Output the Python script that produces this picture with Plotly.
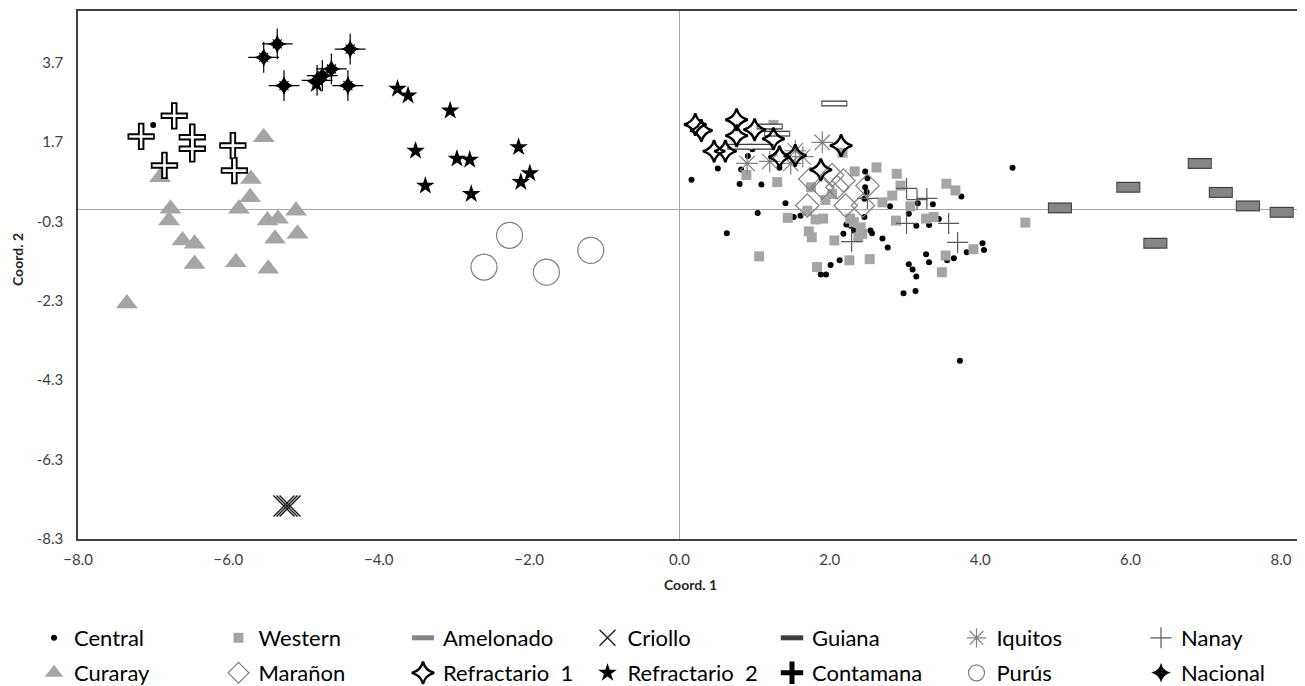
import plotly.graph_objects as go

# ---------------- data (Coord.1, Coord.2) ----------------
central_x = [0.16, 0.51, 0.82, 0.80, 1.09, 0.97, 0.91, 1.33, 1.41, 1.04, 0.63, 1.61, 1.52,
             2.47, 2.50, 2.47, 2.49, 2.46, 2.46, 2.22, 2.28, 2.32, 2.18, 2.54, 2.56, 2.70,
             2.77, 2.80, 2.13, 2.01, 1.88, 1.95, 3.05, 3.17, 3.15, 3.37, 3.45, 3.32, 3.05,
             3.10, 3.15, 3.28, 3.32, 2.98, 3.14, 3.56, 3.65, 3.75, 3.82, 4.03, 4.05, 4.43,
             3.73, -7.00]
central_y = [0.75, 1.03, 1.01, 0.64, 0.63, 1.52, 1.35, 1.05, 0.16, -0.09, -0.60, -0.16, -0.19,
             0.96, 0.79, 0.56, 0.44, 0.27, -0.19, -0.38, -0.41, -0.53, -0.61, -0.53, -0.60, -0.73,
             -0.96, 0.08, -1.28, -1.40, -1.64, -1.64, -0.11, 0.16, -0.41, 0.13, -0.24, -0.39, -1.38,
             -1.51, -1.69, -1.13, -1.33, -2.11, -2.05, -1.28, -1.23, 0.33, -1.08, -0.85, -1.02, 1.05,
             -3.81, 2.13]

western_x = [1.25, 0.89, 1.30, 1.06, 2.17, 2.33, 2.62, 2.89, 2.94, 2.83, 2.70, 3.07, 3.55, 3.67,
             1.75, 1.94, 2.03, 1.70, 1.44, 1.81, 1.91, 1.72, 1.76, 2.06, 2.27, 2.32, 2.41, 2.43,
             2.38, 2.26, 2.53, 1.83, 2.88, 3.28, 3.38, 3.54, 3.91, 3.49, 4.60]
western_y = [2.13, 0.87, 0.69, -1.18, 1.43, 0.96, 1.06, 0.90, 0.60, 0.35, 0.18, 0.08, 0.65, 0.48,
             0.56, 0.24, 0.39, -0.03, -0.21, -0.25, -0.23, -0.55, -0.70, -0.78, -0.23, -0.32, -0.45, -0.61,
             -0.70, -1.28, -1.25, -1.45, -0.28, -0.23, -0.19, -1.16, -1.00, -1.58, -0.33]

amelonado_x = [5.06, 5.97, 6.33, 6.92, 7.20, 7.56, 8.01]
amelonado_y = [0.04, 0.56, -0.85, 1.16, 0.43, 0.09, -0.07]

criollo_x = [-5.26, -5.22, -5.18]
criollo_y = [-7.47, -7.47, -7.47]

guiana_x = [2.06, 1.20, 1.30, 0.81, 1.08]
guiana_y = [2.67, 2.09, 1.91, 1.58, 1.58]

iquitos_x = [1.90, 0.90, 1.20, 1.48, 1.54, 1.64]
iquitos_y = [1.69, 1.16, 1.21, 1.16, 1.48, 1.33]

nanay_x = [3.02, 3.16, 3.29, 3.02, 3.58, 3.70, 2.29, 2.50]
nanay_y = [0.53, 0.25, 0.28, -0.35, -0.35, -0.83, -0.81, 0.28]

curaray_x = [-5.53, -6.91, -5.70, -5.71, -5.86, -6.77, -6.79, -5.48, -5.34, -5.10, -5.38, -5.08,
             -6.61, -6.45, -6.45, -5.90, -5.47, -7.35]
curaray_y = [1.82, 0.81, 0.77, 0.31, 0.02, 0.02, -0.28, -0.28, -0.23, -0.03, -0.74, -0.61,
             -0.78, -0.86, -1.37, -1.33, -1.49, -2.37]

maranon_x = [1.74, 2.03, 2.10, 2.18, 2.50, 1.70, 2.21, 2.44, 1.90]
maranon_y = [0.77, 0.86, 0.56, 0.73, 0.60, 0.10, 0.10, 0.10, 0.56]

refr1_x = [0.21, 0.29, 0.76, 0.76, 1.00, 1.25, 0.46, 0.61, 1.33, 1.54, 2.15, 1.88]
refr1_y = [2.14, 1.99, 2.26, 1.86, 2.01, 1.78, 1.47, 1.47, 1.32, 1.36, 1.61, 1.00]

refr2_x = [-3.75, -3.61, -3.05, -3.51, -2.96, -2.79, -2.14, -3.38, -2.77, -1.99, -2.11, -4.83]
refr2_y = [3.04, 2.87, 2.49, 1.48, 1.28, 1.25, 1.57, 0.60, 0.39, 0.91, 0.69, 3.16]

contamana_x = [-6.72, -7.16, -6.48, -6.48, -6.85, -5.94, -5.92]
contamana_y = [2.36, 1.84, 1.82, 1.53, 1.11, 1.61, 0.98]

purus_x = [-2.26, -2.60, -1.77, -1.18]
purus_y = [-0.65, -1.45, -1.58, -1.03]

nacional_x = [-5.35, -5.53, -4.38, -4.63, -4.75, -5.26, -4.41, -4.82]
nacional_y = [4.17, 3.83, 4.04, 3.54, 3.37, 3.12, 3.12, 3.25]

x_ticks = [-8, -6, -4, -2, 0, 2, 4, 6, 8]
y_ticks = [-8.3, -6.3, -4.3, -2.3, -0.3, 1.7, 3.7]
y_ticklabels = ["-8.3", "-6.3", "-4.3", "-2.3", "-0.3", "1.7", "3.7"]

FONT = "Lato"
fig = go.Figure()


def add(x, y, name, legend, symbol, size, color, lw=0, lc=None, show=True, group=None, lwidth=None):
    fig.add_trace(go.Scatter(
        x=x, y=y, mode="markers", name=name, legend=legend, showlegend=show,
        legendgroup=group or name, legendwidth=lwidth,
        marker=dict(symbol=symbol, size=size, color=color,
                    line=dict(width=lw, color=lc if lc else color)),
        hoverinfo="x+y+name"))


add(central_x, central_y, "Central", "legend", "circle", 6, "black")
add(western_x, western_y, "Western", "legend", "square", 10, "#a5a5a5")
# Amelonado: bordered rectangles (outer dark + inner gray)
add(amelonado_x, amelonado_y, "Amelonado", "legend", "line-ew", 17.2, "#3f3f3f", lw=11,
    show=False, group="Amelonado")
add(amelonado_x, amelonado_y, "Amelonado", "legend", "line-ew", 15.8, "#858585", lw=8.6,
    group="Amelonado")
add(criollo_x, criollo_y, "Criollo", "legend", "x-thin-open", 21, "#1a1a1a", lw=1.4)
# Guiana: outlined thin rectangles
add(guiana_x, guiana_y, "Guiana", "legend", "line-ew", 18.6, "#3f3f3f", lw=6, group="Guiana")
add(guiana_x, guiana_y, "Guiana", "legend", "line-ew", 17.2, "white", lw=3.4, show=False,
    group="Guiana")
add(iquitos_x, iquitos_y, "Iquitos", "legend", "asterisk-open", 18, "#7f7f7f", lw=1.2)
add(nanay_x, nanay_y, "Nanay", "legend", "cross-thin-open", 15, "#595959", lw=1.2, lwidth=80)

add(curaray_x, curaray_y, "Curaray", "legend2", "triangle-up", 19, "#a5a5a5")
add(maranon_x, maranon_y, "Marañon", "legend2", "diamond-open", 18, "#7f7f7f", lw=1.2)
add(refr1_x, refr1_y, "Refractario  1", "legend2", "star-diamond-open", 16, "black", lw=2.4)
add(refr2_x, refr2_y, "Refractario  2", "legend2", "star", 14, "black")
# Contamana: outlined thin cross (black outer + white inner)
add(contamana_x, contamana_y, "Contamana", "legend2", "cross-thin-open", 19.5, "black", lw=6.5,
    group="Contamana")
add(contamana_x, contamana_y, "Contamana", "legend2", "cross-thin-open", 17, "white", lw=2.6,
    show=False, group="Contamana")
add(purus_x, purus_y, "Purús", "legend2", "circle-open", 26, "#7f7f7f", lw=1.2)
# Nacional: thin long 4-point sparkle
add(nacional_x, nacional_y, "Nacional", "legend2", "cross-thin-open", 22, "black", lw=1.2,
    show=False, group="Nacional")
add(nacional_x, nacional_y, "Nacional", "legend2", "x-thin-open", 9, "black", lw=1.2,
    show=False, group="Nacional")
add(nacional_x, nacional_y, "Nacional", "legend2", "star-diamond", 14, "black", lwidth=80,
    group="Nacional")

# The page shows the figure with an 8 px offset; targets below are screen pixels.
OFF = 8
W, H = 1305 - OFF, 686 - OFF
PL, PR, PT, PB = 78 - OFF, 3, 11 - OFF, 147
pw, ph = W - PL - PR, H - PT - PB


def px2paper_x(px):
    return (px - OFF - PL) / pw


def px2paper_y(py):
    return (H - PB - (py - OFF)) / ph


axis_common = dict(showgrid=False, zeroline=True, zerolinecolor="#a6a6a6", zerolinewidth=1,
                   showline=True, mirror=True, linecolor="#404040", linewidth=1.5,
                   ticks="", tickfont=dict(family=FONT, size=15, color="#404040"))

legend_common = dict(orientation="h", xanchor="left", yanchor="middle",
                     x=px2paper_x(34), entrywidth=139.5, entrywidthmode="pixels",
                     font=dict(family=FONT, size=22, color="black"),
                     bgcolor="rgba(0,0,0,0)", itemsizing="trace", tracegroupgap=0)

fig.update_layout(
    width=W, height=H,
    margin=dict(l=PL, r=PR, t=PT, b=PB, autoexpand=False),
    plot_bgcolor="white", paper_bgcolor="white",
    xaxis=dict(range=[-8, 8.28], tickvals=x_ticks, tickformat=".1f", ticklabelstandoff=6,
               **axis_common),
    yaxis=dict(range=[-8.3, 5.0], tickvals=y_ticks, ticktext=y_ticklabels, ticklabelstandoff=10,
               **axis_common),
    legend=dict(y=px2paper_y(638), **legend_common),
    legend2=dict(y=px2paper_y(673), **legend_common),
    annotations=[
        dict(text="<b>Coord. 1</b>", xref="paper", yref="paper", x=px2paper_x(690),
             y=px2paper_y(584), xanchor="center", yanchor="middle",
             showarrow=False, font=dict(family=FONT, size=14, color="#262626")),
        dict(text="<b>Coord. 2</b>", xref="paper", yref="paper", x=px2paper_x(18),
             y=px2paper_y(260), xanchor="center", yanchor="middle", textangle=-90,
             showarrow=False, font=dict(family=FONT, size=14, color="#262626")),
    ],
    showlegend=True,
)

fig.write_html("out.html")
